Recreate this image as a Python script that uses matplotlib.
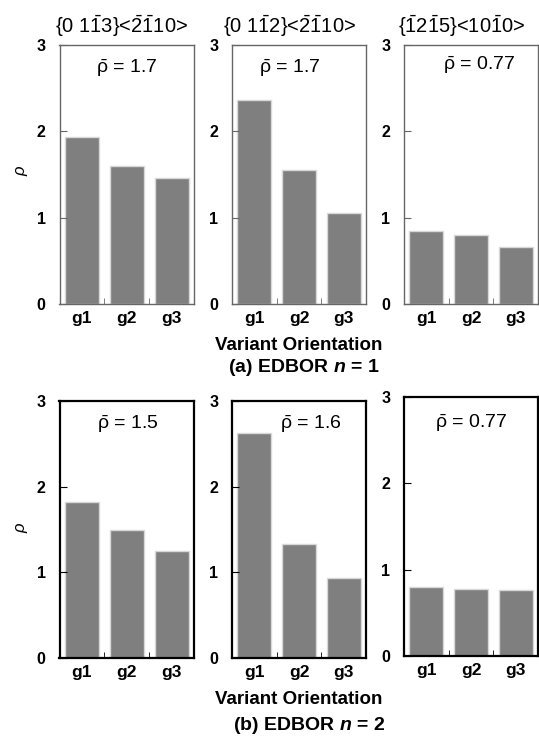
import numpy as np
import matplotlib
matplotlib.use("Agg")
import matplotlib.pyplot as plt

plt.rcParams['font.family'] = ['Liberation Sans', 'DejaVu Sans']
plt.rcParams['mathtext.fontset'] = 'custom'
plt.rcParams['mathtext.rm'] = 'Liberation Sans'
plt.rcParams['mathtext.it'] = 'Liberation Sans:italic'
plt.rcParams['mathtext.bf'] = 'Liberation Sans:bold'
plt.rcParams['mathtext.bfit'] = 'Liberation Sans:bold:italic'

variants = ['g1', 'g2', 'g3']
titles = [r'{0 1$\mathrm{\bar{1}}$3}<$\mathrm{\bar{2}\bar{1}}$10>',
          r'{0 1$\mathrm{\bar{1}}$2}<$\mathrm{\bar{2}\bar{1}}$10>',
          r'{$\mathrm{\bar{1}}$2$\mathrm{\bar{1}}$5}<10$\mathrm{\bar{1}}$0>']
rho_n1 = [[1.93, 1.60, 1.46], [2.36, 1.55, 1.05], [0.84, 0.80, 0.665]]
rho_n2 = [[1.82, 1.50, 1.25], [2.63, 1.33, 0.93], [0.80, 0.78, 0.77]]
mean_n1 = ['1.7', '1.7', '0.77']
mean_n2 = ['1.5', '1.6', '0.77']
captions = [r'(a) EDBOR $\mathbfit{n}$ = 1', r'(b) EDBOR $\mathbfit{n}$ = 2']

W, H = 539, 747
fig = plt.figure(figsize=(W / 100, H / 100), dpi=100)

def box(x0, x1, y0, y1):
    return [x0 / W, 1 - y1 / H, (x1 - x0) / W, (y1 - y0) / H]

lefts = [(59.5, 194), (232, 366), (404, 538)]
rows = [
    dict(vals=rho_n1, means=mean_n1, ys=[(45, 304)] * 3, spine='#666666', lw=1.0,
         mean_xy=[(127, 68), (290, 68), (479, 65)]),
    dict(vals=rho_n2, means=mean_n2, ys=[(401, 658), (401, 658), (397, 656)], spine='black', lw=1.6,
         mean_xy=[(128, 424), (311, 424), (471, 423)]),
]

x = np.arange(3)
for r, row in enumerate(rows):
    for i in range(3):
        ax = fig.add_axes(box(lefts[i][0], lefts[i][1], *row['ys'][i]))
        ax.bar(x, row['vals'][i], width=0.76, color='#7f7f7f', edgecolor='#d8d8d8', linewidth=1)
        ax.set_xlim(-0.5, 2.5)
        ax.set_ylim(0, 3)
        ax.set_yticks([0, 1, 2, 3])
        ax.set_yticklabels(['0', '1', '2', '3'], fontweight='bold', fontsize=11.5)
        ax.set_xticks(x)
        ax.set_xticklabels(variants, fontweight='bold', fontsize=12.5)
        ax.set_xticks([0.5, 1.5], minor=True)
        ax.tick_params(axis='x', which='major', length=0, pad=5)
        ax.tick_params(axis='x', which='minor', direction='in', length=4, color=row['spine'])
        ax.tick_params(axis='y', direction='in', length=5, pad=10, color=row['spine'])
        for s in ax.spines.values():
            s.set_color(row['spine'])
            s.set_linewidth(row['lw'])
        mx, my = row['mean_xy'][i]
        fig.text(mx / W, 1 - my / H, r'$\mathrm{\bar{\rho}}$ = ' + row['means'][i],
                 fontsize=14, ha='center', va='center')

for i, t in enumerate(titles):
    fig.text([122, 290, 462][i] / W, 1 - 26 / H, t, fontsize=14.5, ha='center', va='center')

for yy in [170, 527]:
    fig.text(22 / W, 1 - yy / H, r'$\rho$', fontsize=12, rotation=90, ha='center', va='center',
             family='DejaVu Serif')

for yy in [346, 699]:
    fig.text(299 / W, 1 - yy / H, 'Variant Orientation', fontsize=13.5, fontweight='bold',
             ha='center', va='center')
fig.text(304 / W, 1 - 367 / H, captions[0], fontsize=14, fontweight='bold', ha='center', va='center')
fig.text(309 / W, 1 - 725 / H, captions[1], fontsize=14, fontweight='bold', ha='center', va='center')

fig.savefig('out.png', dpi=100)
